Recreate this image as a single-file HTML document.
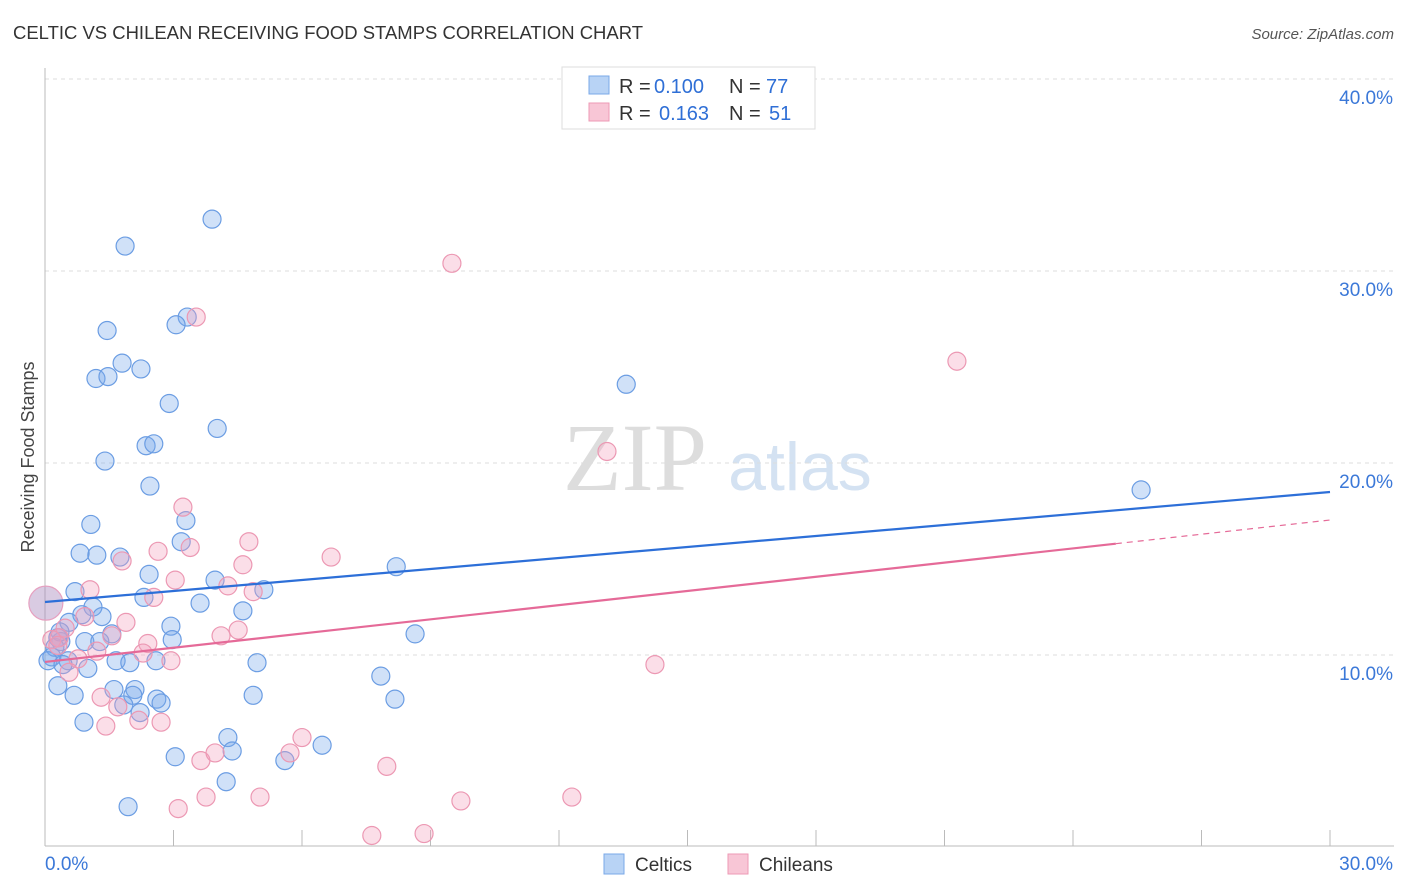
<!DOCTYPE html>
<html><head><meta charset="utf-8"><style>
body{margin:0;background:#fff;font-family:"Liberation Sans",sans-serif;}
svg{display:block}
</style></head><body>
<svg id="chart" width="1406" height="892" xmlns="http://www.w3.org/2000/svg">
<text x="13" y="39" font-size="18" fill="#333" textLength="630" lengthAdjust="spacingAndGlyphs">CELTIC VS CHILEAN RECEIVING FOOD STAMPS CORRELATION CHART</text>
<text x="1394" y="39" font-size="15" fill="#555" text-anchor="end" font-style="italic">Source: ZipAtlas.com</text>
<text transform="translate(34,457) rotate(-90)" font-size="18" fill="#444" text-anchor="middle">Receiving Food Stamps</text>
<g>
<text x="635" y="490" font-size="96" fill="#ddd" text-anchor="middle" font-family="Liberation Serif,serif">ZIP</text>
<text x="800" y="490" font-size="68" fill="#d4e2f2" text-anchor="middle">atlas</text>
</g>
<g id="grid"></g>
<g id="axes"></g>
<g id="points"></g>
<g id="trends"></g>
<g>
<rect x="562" y="67" width="253" height="62" fill="#fff" stroke="#ddd"/>
<rect x="589" y="76" width="20" height="18" fill="#b8d3f5" stroke="#7aa8e8"/>
<text x="619" y="93" font-size="20" fill="#333">R =</text>
<text x="654" y="93" font-size="20" fill="#2f6fd6">0.100</text>
<text x="729" y="93" font-size="20" fill="#333">N =</text>
<text x="766" y="93" font-size="20" fill="#2f6fd6">77</text>
<rect x="589" y="103" width="20" height="18" fill="#f8c6d6" stroke="#ee9ab5"/>
<text x="619" y="120" font-size="20" fill="#333">R =</text>
<text x="659" y="120" font-size="20" fill="#2f6fd6">0.163</text>
<text x="729" y="120" font-size="20" fill="#333">N =</text>
<text x="769" y="120" font-size="20" fill="#2f6fd6">51</text>
</g>
<g>
<rect x="604" y="854" width="20" height="20" fill="#b8d3f5" stroke="#7aa8e8"/>
<text x="635" y="871" font-size="19" fill="#333">Celtics</text>
<rect x="728" y="854" width="20" height="20" fill="#f8c6d6" stroke="#ee9ab5"/>
<text x="759" y="871" font-size="19" fill="#333">Chileans</text>
</g>
</svg>
<script>
const celticsX=[3.90,1.87,3.32,3.06,1.45,1.80,2.24,1.19,1.47,2.90,4.02,2.36,2.54,1.40,2.45,1.07,3.29,3.18,0.82,1.21,1.75,2.43,3.97,5.11,8.20,0.70,2.31,3.62,1.12,4.62,0.86,1.33,0.56,2.94,1.56,2.97,0.30,0.37,0.23,0.93,1.28,0.16,0.54,1.00,1.66,1.98,2.59,4.95,8.64,0.30,1.61,2.10,0.68,2.61,2.71,2.05,1.84,2.22,4.86,7.84,8.17,0.91,4.27,4.37,3.04,6.47,5.60,4.23,1.94,13.57,25.59,0.07,0.42,0.35];
const celticsY=[32.7,31.3,27.6,27.2,26.9,25.2,24.9,24.4,24.5,23.1,21.8,20.9,21.0,20.1,18.8,16.8,17.0,15.9,15.3,15.2,15.1,14.2,13.9,13.4,14.6,13.3,13.0,12.7,12.5,12.3,12.1,12.0,11.7,11.5,11.1,10.8,10.9,10.7,10.4,10.7,10.7,9.9,9.7,9.3,9.7,9.6,9.7,9.6,11.1,8.4,8.2,8.2,7.9,7.7,7.5,7.9,7.4,7.0,7.9,8.9,7.7,6.5,5.7,5.0,4.7,5.3,4.5,3.4,2.1,24.1,18.6,9.7,9.5,11.2];
const chileansX=[9.50,21.29,3.53,13.12,3.22,2.64,3.39,4.76,6.68,1.80,4.62,3.04,1.05,4.27,2.54,4.86,0.93,1.89,1.56,4.11,4.51,2.40,0.47,0.33,0.16,1.21,0.77,2.29,2.94,0.56,14.24,1.31,1.70,2.19,1.42,2.71,3.64,3.97,5.72,6.00,7.98,3.76,5.02,9.71,12.30,3.11,7.63,8.85,0.30];
const chileansY=[30.4,25.3,27.6,20.6,17.7,15.4,15.6,15.9,15.1,14.9,14.7,13.9,13.4,13.6,13.0,13.3,12.0,11.7,11.0,11.0,11.3,10.6,11.4,10.9,10.8,10.2,9.8,10.1,9.7,9.1,9.5,7.8,7.3,6.6,6.3,6.5,4.5,4.9,4.9,5.7,4.2,2.6,2.6,2.4,2.6,2.0,0.6,0.7,10.5];
const bigPoint=[0.02,12.7];
const celticsTrend=[12.76,18.49];
const chileansTrend=[9.64,17.03];
const chileansSolidEnd=25;
const yTicks=[10,20,30,40];
const xTickLabels=["0.0%","30.0%"];
const NS="http://www.w3.org/2000/svg";
const X0=45,X1=1330,XMAX=30,Y0=847,YPX=19.2;
const sx=v=>X0+(X1-X0)*v/XMAX;
const sy=v=>Y0-v*YPX;
function mk(t,a,p){const e=document.createElementNS(NS,t);for(const k in a)e.setAttribute(k,a[k]);p.appendChild(e);return e;}
const grid=document.getElementById('grid'),axes=document.getElementById('axes');
yTicks.forEach(t=>{
  const l=mk('line',{x1:X0,x2:1394,y1:sy(t),y2:sy(t),stroke:'#ddd','stroke-dasharray':'4,4'},grid);
  
  
  const tx=mk('text',{x:1393,y:sy(t)+25,'font-size':19,fill:'#3b78d8','text-anchor':'end'},axes);
  tx.textContent=t.toFixed(1)+'%';
  
  
});
const ya=mk('line',{x1:X0,x2:X0,y1:68,y2:846,stroke:'#bbb'},axes);


const xa=mk('line',{x1:X0,x2:1394,y1:846,y2:846,stroke:'#bbb'},axes);


for(let i=1;i<=10;i++){const t=mk('line',{x1:sx(i*3),x2:sx(i*3),y1:830,y2:846,stroke:'#bbb'},axes);

}
[[0,'start',45],[30,'end',1393]].forEach((d,i)=>{const t=mk('text',{x:d[2],y:870,'font-size':19,fill:'#3b78d8','text-anchor':d[1]},axes);t.textContent=xTickLabels[i];

});
const pts=document.getElementById('points');
function dots(xs,ys,fill,stroke,name){xs.forEach((x,i)=>{const c=mk('circle',{cx:sx(x),cy:sy(ys[i]),r:9,fill:fill,stroke:stroke,'stroke-width':1.2},pts);

});}
dots(celticsX,celticsY,'rgba(120,170,235,0.35)','#6b9de3','celtics-point');
dots(chileansX,chileansY,'rgba(244,160,190,0.35)','#ec98b3','chileans-point');
const bp=mk('circle',{cx:sx(bigPoint[0]),cy:sy(bigPoint[1]),r:17,fill:'rgba(170,140,190,0.45)',stroke:'#e6a0c0','stroke-width':1.2},pts);


const tr=document.getElementById('trends');
const bl=mk('line',{x1:sx(0),y1:sy(celticsTrend[0]),x2:sx(30),y2:sy(celticsTrend[1]),stroke:'#2d6fd8','stroke-width':2.2},tr);


const pm=chileansTrend[0]+(chileansTrend[1]-chileansTrend[0])*chileansSolidEnd/30;
const pl=mk('line',{x1:sx(0),y1:sy(chileansTrend[0]),x2:sx(chileansSolidEnd),y2:sy(pm),stroke:'#e56a98','stroke-width':2.2},tr);


const pd=mk('line',{x1:sx(chileansSolidEnd),y1:sy(pm),x2:sx(30),y2:sy(chileansTrend[1]),stroke:'#e56a98','stroke-width':1.2,'stroke-dasharray':'6,5'},tr);


</script>
</body></html>
